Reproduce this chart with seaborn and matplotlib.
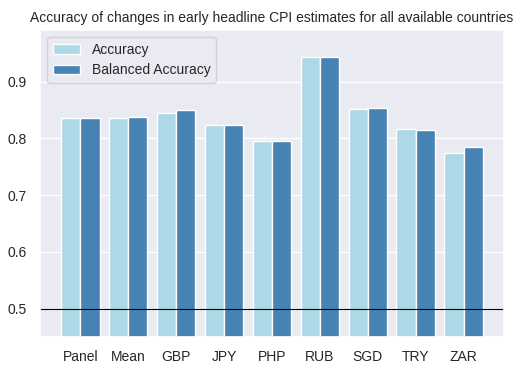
import seaborn as sns
import matplotlib
matplotlib.use('Agg')
import matplotlib.pyplot as plt
import pandas as pd

paises = ['Panel', 'Mean', 'GBP', 'JPY', 'PHP', 'RUB', 'SGD', 'TRY', 'ZAR']
accuracy = [0.836, 0.836, 0.845, 0.824, 0.796, 0.944, 0.852, 0.817, 0.775]
balanced_accuracy = [0.836, 0.838, 0.850, 0.824, 0.796, 0.944, 0.854, 0.815, 0.785]

df = pd.DataFrame({
    'pais': paises * 2,
    'valor': accuracy + balanced_accuracy,
    'metrica': ['Accuracy'] * len(paises) + ['Balanced Accuracy'] * len(paises),
})

sns.set_theme(style='darkgrid')
plt.rcParams['font.family'] = ['Liberation Sans', 'DejaVu Sans']
fig, ax = plt.subplots(figsize=(5.22, 3.71), dpi=100)
sns.barplot(data=df, x='pais', y='valor', hue='metrica',
            palette=['lightblue', 'steelblue'], saturation=1,
            edgecolor='white', linewidth=1, width=0.8, ax=ax)
ax.axhline(0.5, color='black', linewidth=0.8)
ax.set_xlim(-0.84, 8.84)
ax.set_ylim(0.45, max(accuracy + balanced_accuracy) * 1.05)
ax.set_xlabel('')
ax.set_ylabel('')
ax.tick_params(labelsize=10)
ax.set_title('Accuracy of changes in early headline CPI estimates for all available countries', fontsize=10)
ax.legend(loc='upper left', fontsize=10)
fig.subplots_adjust(left=0.077, right=0.965, top=0.919, bottom=0.092)
fig.savefig('out.png', dpi=100)
